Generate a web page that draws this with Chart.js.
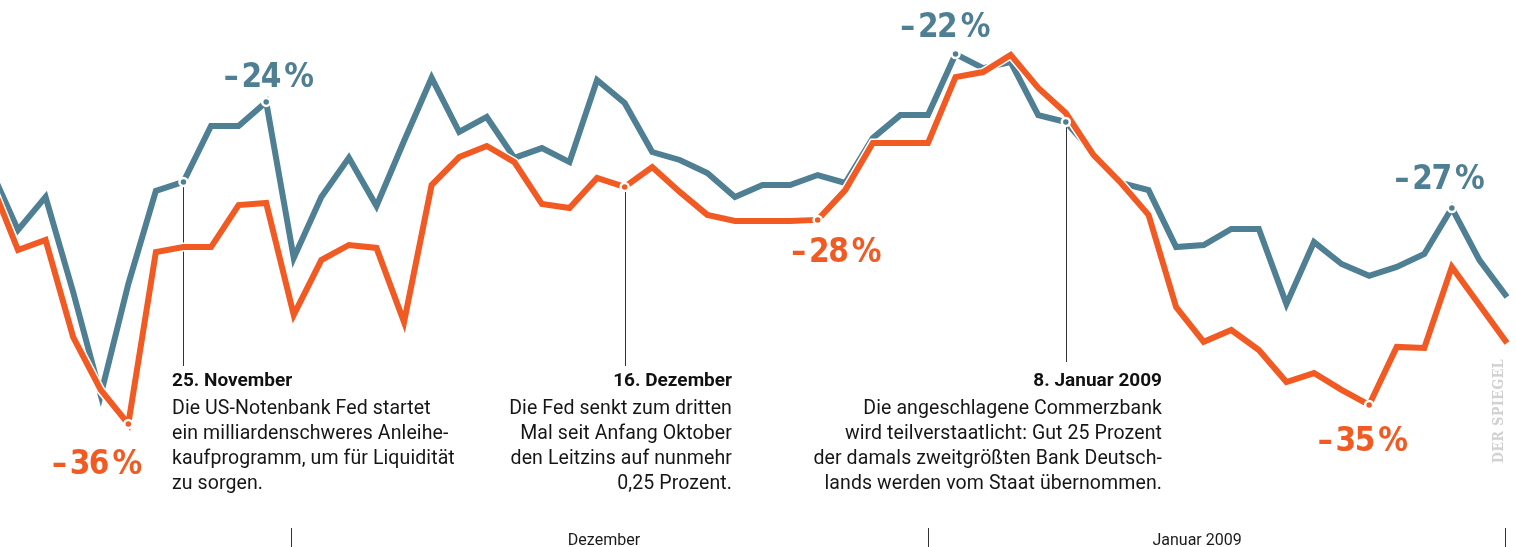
<!DOCTYPE html>
<html>
<head>
<meta charset="utf-8">
<script src="https://cdn.jsdelivr.net/npm/chart.js@4.4.0/dist/chart.umd.min.js"></script>
<style>
  body { margin: 0; background: #fff; overflow: hidden; }
  #wrap { position: relative; width: 1516px; height: 547px; }
  .note { position: absolute; top: 367px; font-family: Roboto, 'Liberation Sans', sans-serif; font-size: 19.5px; letter-spacing: 0.1px; line-height: 25px; color: #161616; white-space: nowrap; }
  .note b { display: block; font-size: 19px; letter-spacing: 0; margin-bottom: 3px; color: #111; }
  #brand { position: absolute; left: 1498px; top: 411px; transform: translate(-50%, -50%) rotate(-90deg);
           font: bold 14px 'DejaVu Serif Condensed', 'DejaVu Serif', serif; color: #d0d0d0; letter-spacing: 0.5px; white-space: nowrap; }
</style>
</head>
<body>
<div id="wrap">
  <canvas id="chart" width="1516" height="547"></canvas>
  <div class="note" style="left:172px;text-align:left"><b>25. November</b>Die US-Notenbank Fed startet<br>ein milliardenschweres Anleihe-<br>kaufprogramm, um für Liquidität<br>zu sorgen.</div>
  <div class="note" style="right:784px;text-align:right"><b>16. Dezember</b>Die Fed senkt zum dritten<br>Mal seit Anfang Oktober<br>den Leitzins auf nunmehr<br>0,25 Prozent.</div>
  <div class="note" style="right:354px;text-align:right"><b>8. Januar 2009</b>Die angeschlagene Commerzbank<br>wird teilverstaatlicht: Gut 25 Prozent<br>der damals zweitgrößten Bank Deutsch-<br>lands werden vom Staat übernommen.</div>
  <div id="brand">DER SPIEGEL</div>
</div>
<script>
// daily values, index 0 is the day just left of the visible area
const blueSeries = [
  -26.40, -28.71, -27.46, -31.06, -34.96, -30.76, -27.23, -26.89, -24.77, -24.77,
  -23.86, -29.77, -27.46, -25.98, -27.80, -25.34, -22.95, -25.00, -24.43, -25.98,
  -25.61, -26.14, -23.03, -23.90, -25.76, -26.06, -26.55, -27.46, -27.01, -27.01,
  -26.63, -26.93, -25.23, -24.36, -24.36, -22.05, -22.58, -22.35, -24.36, -24.62,
  -25.80, -26.93, -27.20, -29.36, -29.28, -28.67, -28.67, -31.52, -29.17, -30.00,
  -30.45, -30.11, -29.62, -27.88, -29.85, -31.25
];
const orangeSeries = [
  -26.86, -29.47, -29.09, -32.77, -34.77, -36.06, -29.55, -29.36, -29.36, -27.77,
  -27.69, -31.93, -29.85, -29.28, -29.39, -32.20, -27.01, -25.95, -25.53, -26.14,
  -27.73, -27.88, -26.74, -27.08, -26.33, -27.27, -28.14, -28.37, -28.37, -28.37,
  -28.33, -27.20, -25.42, -25.42, -25.42, -22.92, -22.73, -22.08, -23.33, -24.28,
  -25.87, -26.93, -28.14, -31.63, -32.95, -32.50, -33.26, -34.47, -34.13, -34.77,
  -35.34, -33.14, -33.18, -30.11, -31.55, -32.99
];

const blueMarks = [7, 10, 35, 39, 53];
const orangeMarks = [5, 23, 30, 50];

// value labels: [series, index, text, dx, dy]
const valueLabels = [
  ['blue', 10, '–\u200924\u2009%', 2, -15],
  ['blue', 35, '–\u200922\u2009%', -11, -17],
  ['blue', 53, '–\u200927\u2009%', -13, -19],
  ['orange', 5, '–\u200936\u2009%', -32, 50],
  ['orange', 30, '–\u200928\u2009%', 18, 42],
  ['orange', 50, '–\u200935\u2009%', -7, 46]
];

// leader lines from event markers down to the notes: [series, index, bottom y]
const leaders = [['blue', 7, 366], ['orange', 23, 366], ['blue', 39, 362]];

const monthTicks = [10.9, 34, 54.93];
const monthLabels = ['Dezember', 'Januar 2009'];
const monthLabelPos = [22.25, 43.76];

const BLUE = '#4f7f93';
const ORANGE = '#f15a22';

const pts = arr => arr.map((v, i) => ({ x: i, y: v }));
const markPts = (arr, idx) => idx.map(i => ({ x: i, y: arr[i] }));
const seriesOf = s => (s === 'blue' ? blueSeries : orangeSeries);

const overlay = {
  id: 'overlay',
  beforeDatasetsDraw(chart) {
    const { ctx, scales: { x, y } } = chart;
    ctx.save();
    ctx.strokeStyle = '#333';
    ctx.lineWidth = 1;
    leaders.forEach(([s, i, bottom]) => {
      const px = Math.round(x.getPixelForValue(i)) + 0.5;
      const py = y.getPixelForValue(seriesOf(s)[i]);
      ctx.beginPath();
      ctx.moveTo(px, py);
      ctx.lineTo(px, bottom);
      ctx.stroke();
    });
    // month boundaries and names
    monthTicks.forEach(t => {
      const px = Math.round(x.getPixelForValue(t)) + 0.5;
      ctx.beginPath();
      ctx.moveTo(px, 528);
      ctx.lineTo(px, 547);
      ctx.stroke();
    });
    ctx.fillStyle = '#1a1a1a';
    ctx.font = "16px Roboto, 'Liberation Sans', sans-serif";
    ctx.textAlign = 'center';
    ctx.textBaseline = 'alphabetic';
    monthLabels.forEach((m, k) => ctx.fillText(m, x.getPixelForValue(monthLabelPos[k]), 545));
    ctx.restore();
  },
  afterDraw(chart) {
    const { ctx, scales: { x, y } } = chart;
    ctx.save();
    ctx.font = "bold 33px 'DejaVu Sans Condensed', sans-serif";
    ctx.letterSpacing = '-1.5px';
    ctx.textAlign = 'center';
    ctx.textBaseline = 'alphabetic';
    valueLabels.forEach(([s, i, txt, dx, dy]) => {
      ctx.fillStyle = s === 'blue' ? BLUE : ORANGE;
      ctx.fillText(txt, x.getPixelForValue(i) + dx, y.getPixelForValue(seriesOf(s)[i]) + dy);
    });
    ctx.restore();
  }
};

new Chart(document.getElementById('chart'), {
  type: 'line',
  data: {
    datasets: [
      {
        data: markPts(blueSeries, blueMarks), showLine: false,
        pointRadius: 4, pointBorderWidth: 2.5, pointBackgroundColor: BLUE, pointBorderColor: '#fff'
      },
      {
        data: markPts(orangeSeries, orangeMarks), showLine: false,
        pointRadius: 4, pointBorderWidth: 2.5, pointBackgroundColor: ORANGE, pointBorderColor: '#fff'
      },
      { data: pts(orangeSeries), borderColor: ORANGE, borderWidth: 6, pointRadius: 0, tension: 0 },
      { data: pts(orangeSeries), borderColor: '#fff', borderWidth: 9, pointRadius: 0, tension: 0 },
      { data: pts(blueSeries), borderColor: BLUE, borderWidth: 6, pointRadius: 0, tension: 0 }
    ]
  },
  options: {
    responsive: false,
    animation: false,
    layout: { padding: 0, autoPadding: false },
    plugins: { legend: { display: false }, tooltip: { enabled: false } },
    scales: {
      x: { type: 'linear', min: 0.3472, max: 55.326, display: false },
      y: { min: -40.72, max: -20, display: false }
    }
  },
  plugins: [overlay]
});
</script>
</body>
</html>
